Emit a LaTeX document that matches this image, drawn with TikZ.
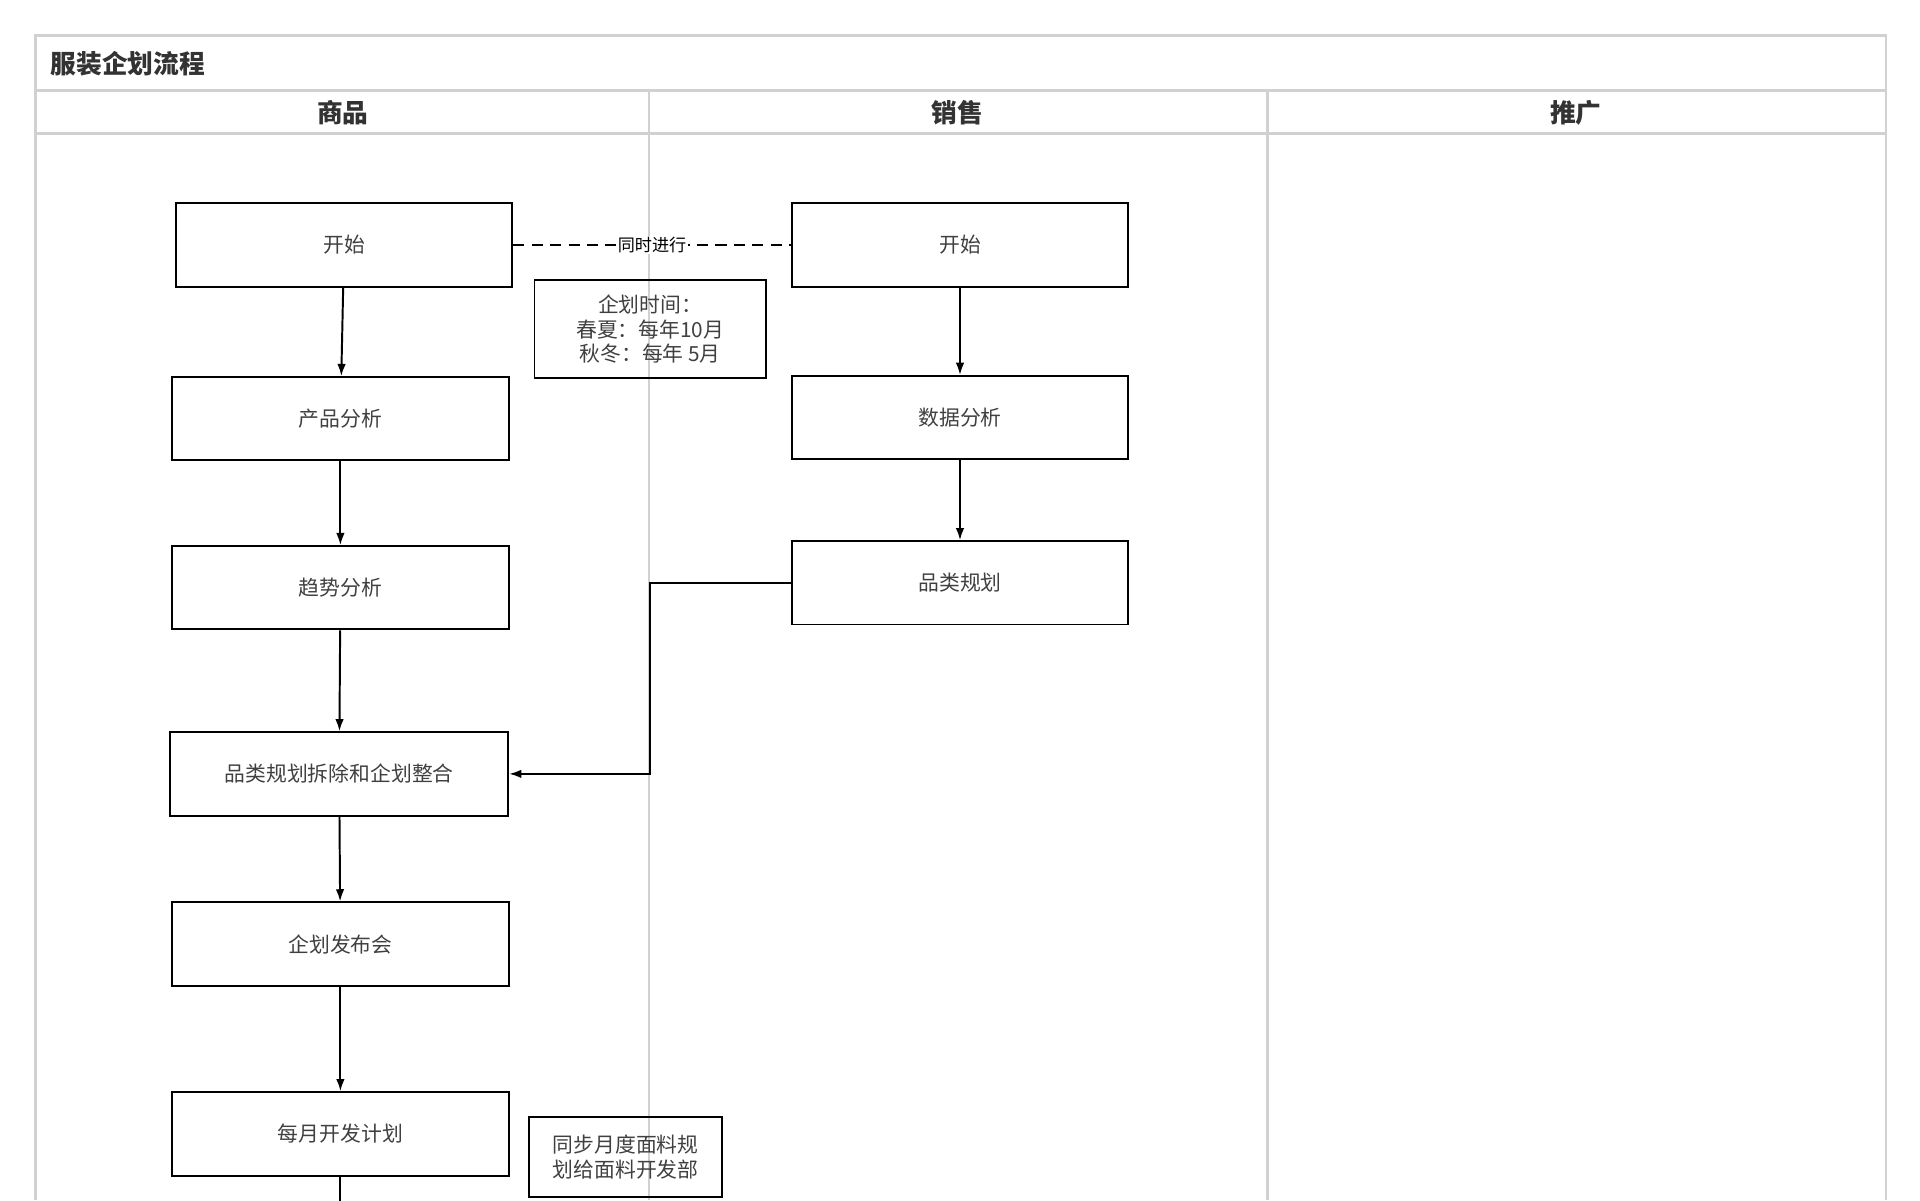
\documentclass[tikz,border=0pt]{standalone}
\usepackage{fontspec}
\setmainfont{Noto Sans CJK SC}
\usetikzlibrary{arrows.meta,positioning}

\begin{document}
\begin{tikzpicture}[x=1pt,y=-1pt,
            proc/.style={draw,line width=1.6pt,minimum width=275pt,minimum height=68pt,font=\fontsize{17}{20}\selectfont,text=black!75},
            note/.style={draw,line width=1.6pt,align=center,font=\fontsize{17}{20}\selectfont,text=black!75,inner sep=3pt},
            lane/.style={draw=black!18,line width=2pt},
            head/.style={font=\bfseries\fontsize{21}{24}\selectfont,text=black!80},
            every path/.style={>={Latex[length=10pt,width=7pt]}},
            flow/.style={draw,->,line width=1.6pt}
          ]
          \useasboundingbox (0,0) rectangle (1568,980);
          %lanes
          \draw[lane] (29,980) -- (29,29) -- (1540,29) -- (1540,980);
          \draw[lane] (29,74) -- (1540,74);
          \draw[lane] (29,109) -- (1540,109);
          \draw[lane] (530,74) -- (530,980);
          \draw[lane] (1035,74) -- (1035,980);
          \node[head,anchor=west] (title) at (38,52) {服装企划流程};
          \node[head] (h1) at (280,92) {商品};
          \node[head] (h2) at (782,92) {销售};
          \node[head] (h3) at (1287,92) {推广};

          %goods
          \node[proc] (s0) at (281,200) {开始};
          \node[proc] (s1) at (278,342) {产品分析};
          \node[proc] (s2) at (278,480) {趋势分析};
          \node[proc,minimum width=276pt] (s3) at (277,632) {品类规划拆除和企划整合};
          \node[proc] (s4) at (278,771) {企划发布会};
          \node[proc] (s5) at (278,926) {每月开发计划};
          \coordinate (s6) at (278,985);

          %sales
          \node[proc] (t0) at (784,200) {开始};
          \node[proc] (t1) at (784,341) {数据分析};
          \node[proc] (t2) at (784,476) {品类规划};

          %notes
          \node[note,minimum width=189pt,minimum height=80pt] (n0) at (531,269) {企划时间：\\春夏：每年10月\\秋冬：每年 5月};
          \node[note,minimum width=158pt,minimum height=65pt] (n1) at (511,945) {同步月度面料规\\划给面料开发部};

          \path
          (s0) edge[flow] (s1)
          (s1) edge[flow] (s2)
          (s2) edge[flow] (s3)
          (s3) edge[flow] (s4)
          (s4) edge[flow] (s5)
          (s5.south) edge[draw,line width=1.6pt] (s6)
          (t0) edge[flow] (t1)
          (t1) edge[flow] (t2)
          ;
          \draw[flow] (t2.west) -| (531,632) -- (s3.east);
          \draw[line width=1.6pt,dash pattern=on 9pt off 6pt] (s0.east) -- node[fill=white,inner sep=1pt,font=\fontsize{14}{16}\selectfont] (sync) {同时进行} (t0.west);
      \end{tikzpicture}
\end{document}
